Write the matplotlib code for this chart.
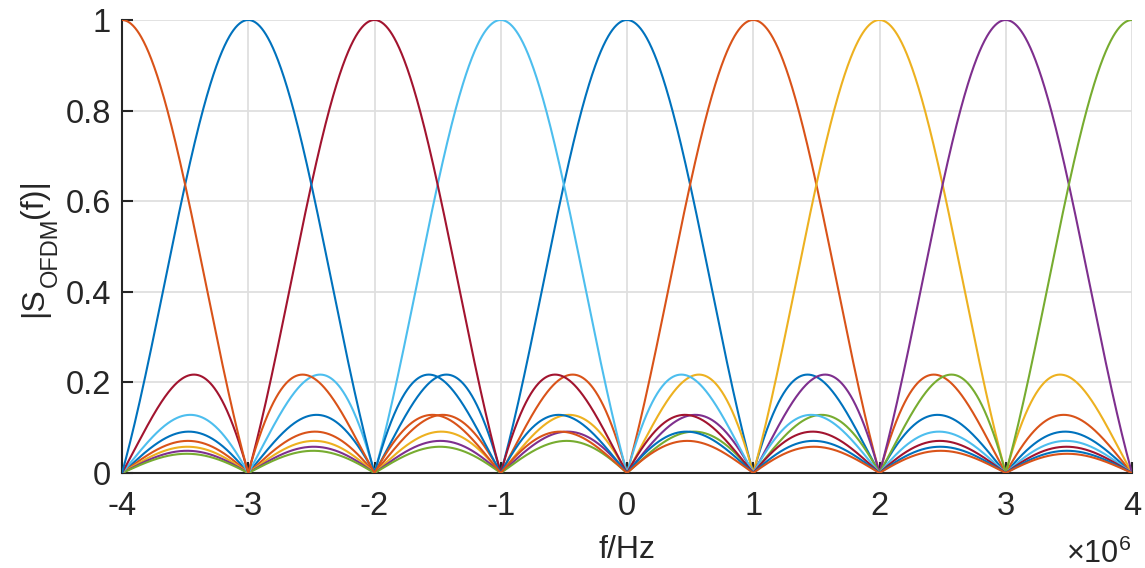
import numpy as np
import matplotlib
matplotlib.use("Agg")
import matplotlib.pyplot as plt

# Subcarrier centre frequencies (in units of 1e6 Hz), in plotting order
centers = [0, 1, 2, 3, 4, -1, -2, -3, -4]
colors = ["#0072BD", "#D95319", "#EDB120", "#7E2F8E", "#77AC30",
          "#4DBEEE", "#A2142F", "#0072BD", "#D95319"]
xticks = [-4, -3, -2, -1, 0, 1, 2, 3, 4]
yticks = [0, 0.2, 0.4, 0.6, 0.8, 1]
ytick_labels = ["0", "0.2", "0.4", "0.6", "0.8", "1"]

plt.rcParams["font.family"] = ["Liberation Sans", "DejaVu Sans"]
plt.rcParams["mathtext.fontset"] = "custom"
plt.rcParams["mathtext.rm"] = "Liberation Sans"
plt.rcParams["mathtext.it"] = "Liberation Sans:italic"

W, H = 1145, 568
fig = plt.figure(figsize=(W / 100, H / 100), dpi=100)
ax = fig.add_axes([122 / W, 1 - 473 / H, (1132 - 122) / W, (473 - 20) / H])

f = np.linspace(-4, 4, 2001)
for c, col in zip(centers, colors):
    ax.plot(f, np.abs(np.sinc(f - c)), color=col, lw=1.5, zorder=3)

ax.set_xlim(-4, 4)
ax.set_ylim(0, 1)
ax.set_xticks(xticks)
ax.set_xticklabels([str(t) for t in xticks])
ax.set_yticks(yticks)
ax.set_yticklabels(ytick_labels)
ax.grid(True, color="#dfdfdf", lw=1.3, zorder=0)
ax.set_axisbelow(True)

dark = "#262626"
for s in ["top", "right"]:
    ax.spines[s].set_visible(False)
for s in ["left", "bottom"]:
    ax.spines[s].set_color(dark)
    ax.spines[s].set_linewidth(1.5)
ax.tick_params(direction="in", length=8, width=1.5, colors=dark,
               labelsize=23.5)
ax.tick_params(axis="x", pad=13)
ax.tick_params(axis="y", pad=8)

# x label
ax.set_xlabel("f/Hz", fontsize=23, color=dark, va="baseline")
ax.xaxis.set_label_coords(0.5, -(558 - 473) / 453)

# y label built from pieces (MATLAB-style deep subscript)
renderer = fig.canvas.get_renderer()
main_fs, sub_fs = 23, 17
x_base = 42            # pixel x of baseline of main text
y_start = H - 317      # pixel y (from bottom) where label starts
drop = 15              # subscript drop in pixels


def put(txt, xp, yp, fs):
    t = fig.text(xp / W, yp / H, txt, fontsize=fs, color=dark,
                 rotation=90, rotation_mode="anchor",
                 ha="left", va="baseline")
    bb = t.get_window_extent(renderer)
    return bb.height


y = y_start
y += put("|S", x_base, y, main_fs)
y += put("OFDM", x_base + drop, y, sub_fs)
put("(f)|", x_base, y, main_fs)

# exponent label
fig.text(1131 / W, (H - 563) / H, r"$\times$10$^{6}$", fontsize=22, color=dark,
         ha="right", va="baseline")

fig.savefig("out.png", dpi=100)
